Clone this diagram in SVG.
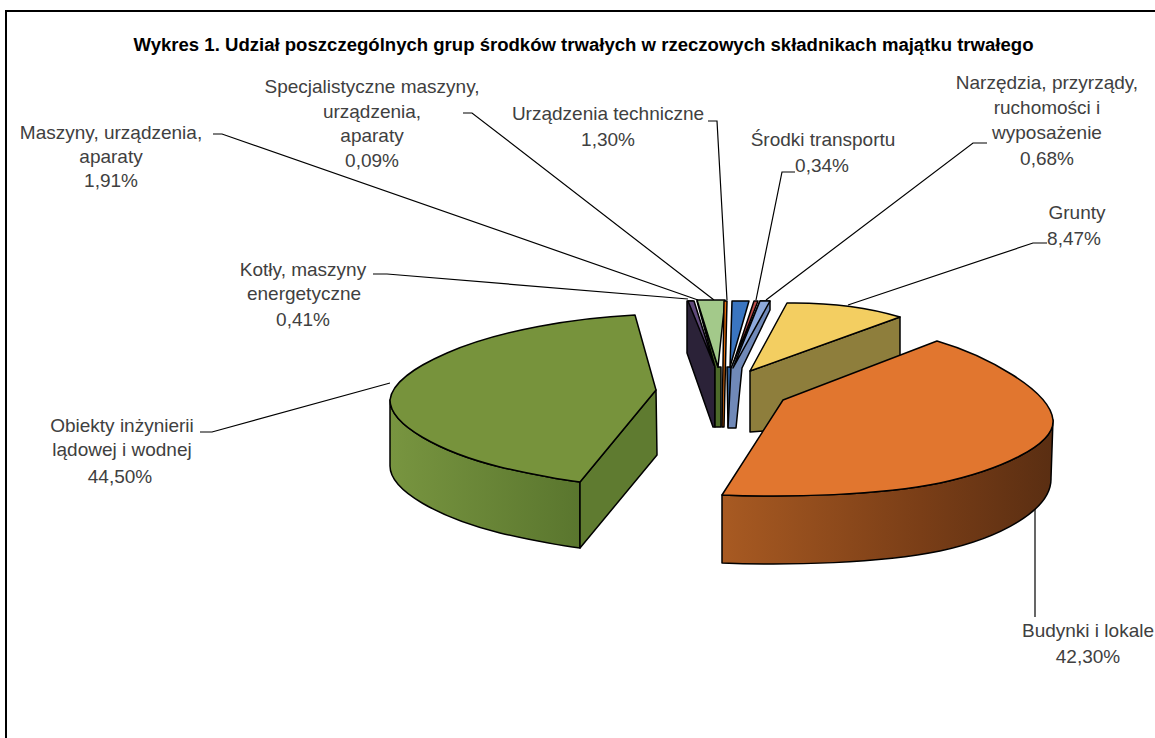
<svg xmlns="http://www.w3.org/2000/svg" width="1155" height="738" viewBox="0 0 1155 738">
<style>
.t{font-family:"Liberation Sans",Arial,sans-serif;font-size:19px;fill:#404040;text-anchor:middle}
.title{font-family:"Liberation Sans",Arial,sans-serif;font-size:18px;font-weight:bold;fill:#000;text-anchor:middle}
.ln{fill:none;stroke:#000;stroke-width:1.2}
.s{stroke:#000;stroke-width:1.5;stroke-linejoin:round}
</style>
<defs>
<linearGradient id="gSide" x1="0" y1="0" x2="1" y2="0">
<stop offset="0" stop-color="#789540"/><stop offset="1" stop-color="#5A762E"/>
</linearGradient>
<linearGradient id="oSide" x1="0" y1="0" x2="1" y2="0">
<stop offset="0" stop-color="#A85A22"/><stop offset="0.6" stop-color="#7A3E17"/><stop offset="1" stop-color="#5A2E12"/>
</linearGradient>
</defs>
<rect width="1155" height="738" fill="#fff"/>
<path d="M6,738 V11 H1155" fill="none" stroke="#000" stroke-width="2"/>
<text class="title" x="583.5" y="51" textLength="900" lengthAdjust="spacingAndGlyphs">Wykres 1. Udział poszczególnych grup środków trwałych w rzeczowych składnikach majątku trwałego</text>

<g id="connectors">
<path class="ln" d="M213,134 H222 L698,300"/>
<path class="ln" d="M463,113 H472 L714,300"/>
<path class="ln" d="M708,121 H717 L727,300"/>
<path class="ln" d="M795,172 H782 L756,300"/>
<path class="ln" d="M987,143 H973 L766,300"/>
<path class="ln" d="M1047,243 H1033 L848,305"/>
<path class="ln" d="M373,274 H387 L688,299"/>
<path class="ln" d="M200,432 H212 L390,383"/>
<path class="ln" d="M1035,507 V617"/>
</g>

<g id="small-slices">
<path class="s" fill="#2B2238" d="M687,301 L693,301 L715,367 L715,427 L713,427 L687,353 Z"/>
<path class="s" fill="#604A7B" d="M688,301 L694,301 L714,365 Z"/>
<path class="s" fill="#4D6B2A" d="M697,301 L718,367 L721,367 L721,427 L715,427 L715,367 Z"/>
<path class="s" fill="#A3C98A" d="M697,300 L725,300 L718,367 Z"/>
<path class="s" fill="#E46C0A" d="M724,301 L727,301 L724,427 L722,427 Z"/>
<path class="s" fill="#2B5A94" d="M727,367 L731,367 L732,427 L728,427 Z"/>
<path class="s" fill="#3A75C0" d="M732,301 L749,301 L730,367 Z"/>
<path class="s" fill="#C0504D" d="M754,301 L758,301 L732,367 Z"/>
<path class="s" fill="#7089B8" d="M770,301 L770,310 L742,368 L736,428 L728,428 L731,368 L760,301 Z"/>
<path class="s" fill="#8DA9DB" d="M760,301 L770,301 L733,368 Z"/>
</g>

<g id="grunty">
<path class="s" fill="#8E7E3C" d="M750,371 L900,317 L900,380 L780,430 L750,432 Z"/>
<path class="s" fill="#F3CE61" d="M787,303 Q850,302 900,317 L750,371 Z"/>
</g>

<g id="budynki">
<path class="s" fill="url(#oSide)" d="M1053,420 C1055,445 1000,470 940,483 C880,495 790,498 722,495 L722,563 C790,566 880,563 940,551 C1000,538 1052,510 1051,478 Z"/>
<path class="s" fill="#E1762F" d="M937,341 C985,355 1050,390 1053,420 C1055,445 1000,470 940,483 C880,495 790,498 722,495 L783,400 Z"/>
</g>

<g id="obiekty">
<path class="s" fill="url(#gSide)" d="M390,400 C390,425 440,452 500,467 C530,474 555,479 580,482 L580,548 C555,545 530,540 500,533 C440,518 390,491 390,466 Z"/>
<path class="s" fill="#5F7B30" d="M656,390 L580,482 L580,548 L657,455 Z"/>
<path class="s" fill="#77933C" d="M635,315 C575,318 500,330 447,353 C415,367 392,382 390,400 C390,425 440,452 500,467 C530,474 555,479 580,482 L656,390 Z"/>
</g>

<g id="label-maszyny" class="t">
<text x="111" y="139">Maszyny, urządzenia,</text>
<text x="111" y="163">aparaty</text>
<text x="111" y="187">1,91%</text>
</g>
<g id="label-specjalistyczne" class="t">
<text x="372" y="93">Specjalistyczne maszyny,</text>
<text x="372" y="118">urządzenia,</text>
<text x="372" y="142">aparaty</text>
<text x="372" y="167">0,09%</text>
</g>
<g id="label-urzadzenia" class="t">
<text x="608" y="120">Urządzenia techniczne</text>
<text x="608" y="146">1,30%</text>
</g>
<g id="label-srodki" class="t">
<text x="823" y="146">Środki transportu</text>
<text x="822" y="172">0,34%</text>
</g>
<g id="label-narzedzia" class="t">
<text x="1047" y="89">Narzędzia, przyrządy,</text>
<text x="1047" y="114">ruchomości i</text>
<text x="1047" y="139">wyposażenie</text>
<text x="1047" y="165">0,68%</text>
</g>
<g id="label-grunty" class="t">
<text x="1077" y="219">Grunty</text>
<text x="1074" y="245">8,47%</text>
</g>
<g id="label-kotly" class="t">
<text x="303" y="276">Kotły, maszyny</text>
<text x="304" y="300">energetyczne</text>
<text x="303" y="326">0,41%</text>
</g>
<g id="label-obiekty" class="t">
<text x="122" y="432">Obiekty inżynierii</text>
<text x="122" y="456">lądowej i wodnej</text>
<text x="120" y="483">44,50%</text>
</g>
<g id="label-budynki" class="t">
<text x="1088" y="637">Budynki i lokale</text>
<text x="1088" y="663">42,30%</text>
</g>
</svg>
